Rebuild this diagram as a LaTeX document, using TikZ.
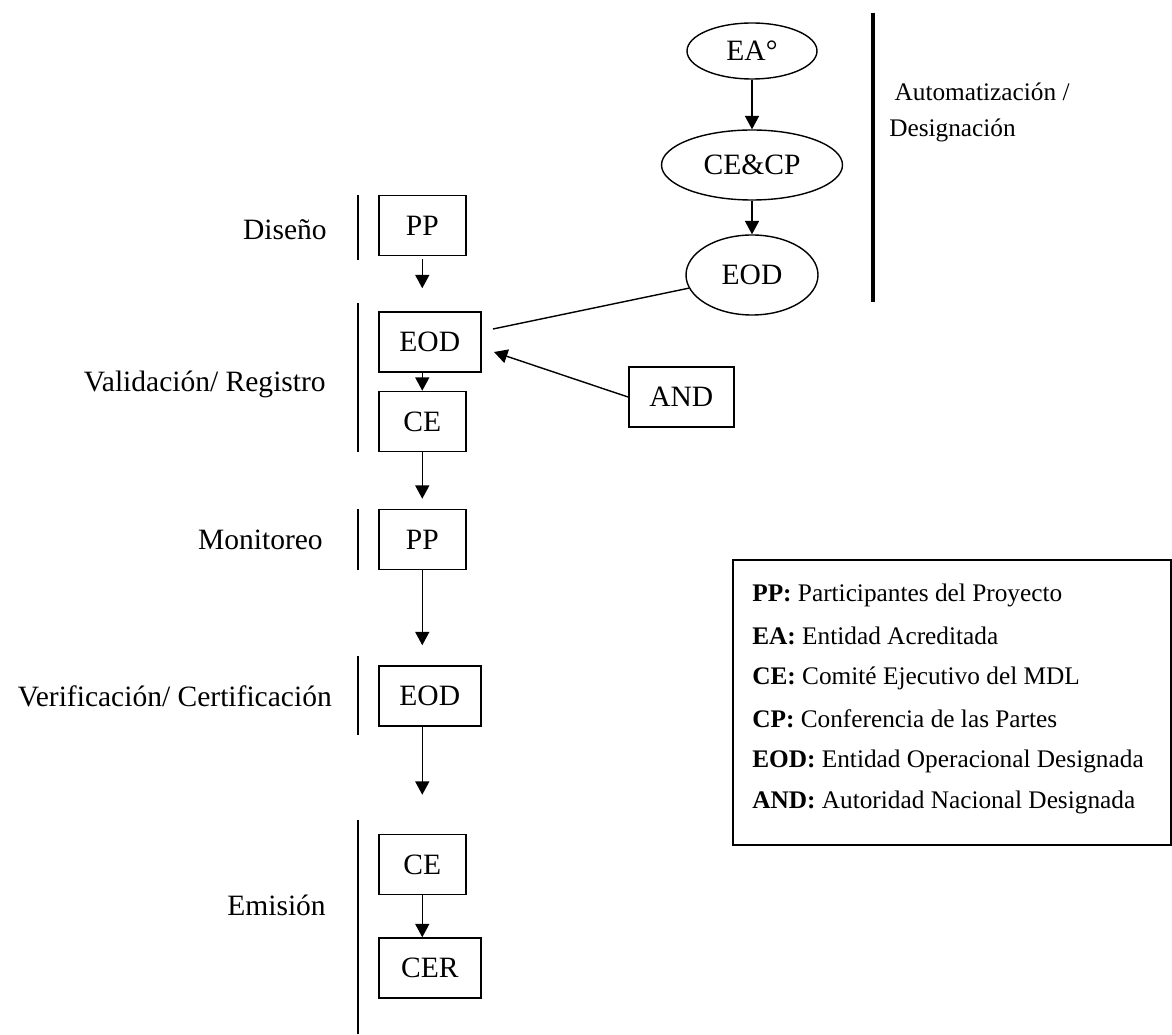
\documentclass[tikz,border=0pt]{standalone}
\usepackage{fontspec}
\setmainfont{Liberation Serif}
\usetikzlibrary{arrows.meta,shapes.geometric}

\begin{document}
\begin{tikzpicture}[
  mdlbox/.style = {draw, line width=1.1pt, inner sep=0pt, anchor=west,
    minimum width=2.175cm, minimum height=1.5cm,
    font=\fontsize{21}{25}\selectfont},
  mdlwide/.style = {mdlbox, minimum width=2.55cm},
  mdlell/.style = {draw, line width=1pt, ellipse, inner sep=0pt,
    font=\fontsize{21}{25}\selectfont},
  mdlarr/.style = {-{Triangle[length=9.5pt,width=10pt]}, line width=1pt},
  mdlline/.style = {line width=1pt},
  mdlbar/.style = {line width=1pt},
  mdllbl/.style = {anchor=east, inner sep=0pt, font=\fontsize{21}{25}\selectfont},
  mdlsmall/.style = {anchor=west, inner sep=0pt, font=\fontsize{18}{22}\selectfont}
]
  \useasboundingbox (0,0) rectangle (29.3,25.85);

  % etapas
  \node[mdllbl] (lbl1) at (8.175,20.1) {Diseño};
  \node[mdllbl] (lbl2) at (8.15,16.25) {Validación/ Registro};
  \node[mdllbl] (lbl3) at (8.075,12.35) {Monitoreo};
  \node[mdllbl] (lbl4) at (8.3,8.45) {Verificación/ Certificación};
  \node[mdllbl] (lbl5) at (8.15,3.225) {Emisión};

  \draw[mdlbar] (8.95,20.975) -- (8.95,19.35);
  \draw[mdlbar] (8.95,18.275) -- (8.95,14.55);
  \draw[mdlbar] (8.95,13.125) -- (8.95,11.6);
  \draw[mdlbar] (8.95,9.45) -- (8.95,7.475);
  \draw[mdlbar] (8.95,5.35) -- (8.95,0);

  % cajas
  \node[mdlbox] (pp1) at (9.45,20.2125) {PP};
  \node[mdlwide] (eod1) at (9.45,17.3) {EOD};
  \node[mdlbox] (ce1) at (9.45,15.3125) {CE};
  \node[mdlbox] (pp2) at (9.45,12.3625) {PP};
  \node[mdlwide] (eod2) at (9.45,8.45) {EOD};
  \node[mdlbox] (ce2) at (9.45,4.2375) {CE};
  \node[mdlwide] (cer) at (9.45,1.65) {CER};
  \node[mdlbox, minimum width=2.625cm] (and) at (15.7,15.925) {AND};

  \draw[mdlarr, shorten <=2pt, shorten >=0.575cm] (pp1.south) -- (eod1.north -| pp1.south);
  \draw[mdlarr] (eod1.south -| ce1.north) -- (ce1.north);
  \draw[mdlarr, shorten >=0.25cm] (ce1.south) -- (pp2.north);
  \draw[mdlarr, shorten >=0.5cm] (pp2.south) -- (eod2.north -| pp2.south);
  \draw[mdlarr, shorten >=0.975cm] (eod2.south -| ce2.north) -- (ce2.north);
  \draw[mdlarr] (ce2.south) -- (cer.north -| ce2.south);

  % designacion
  \node[mdlell, minimum width=3.25cm, minimum height=1.4cm] (ea) at (18.8,24.575) {EA°};
  \node[mdlell, minimum width=4.525cm, minimum height=1.75cm] (cecp) at (18.8,21.725) {CE\&CP};
  \node[mdlell, minimum width=3.3cm, minimum height=2cm] (eoda) at (18.8,18.975) {EOD};
  \draw[mdlarr] (ea) -- (cecp);
  \draw[mdlarr] (cecp) -- (eoda);

  \draw[line width=2.8pt] (21.825,25.525) -- (21.825,18.3);
  \node[mdlsmall] (auto1) at (22.2,23.55) {\ Automatización /};
  \node[mdlsmall] (auto2) at (22.225,22.6) {Designación};

  \coordinate (eodin) at (12.325,17.625);
  \coordinate (andin) at (12.35,17.05);
  \draw[mdlline] (eoda) -- (eodin);
  \draw[mdlarr] (and.west) -- (andin);

  % leyenda
  \draw[line width=1.1pt] (18.325,11.85) rectangle (29.275,4.725);
  \node[mdlsmall] (leg1) at (18.8,10.975) {\textbf{PP:} Participantes del Proyecto};
  \node[mdlsmall] (leg2) at (18.8,9.95) {\textbf{EA:} Entidad Acreditada};
  \node[mdlsmall] (leg3) at (18.8,8.9) {\textbf{CE:} Comité Ejecutivo del MDL};
  \node[mdlsmall] (leg4) at (18.8,7.875) {\textbf{CP:} Conferencia de las Partes};
  \node[mdlsmall] (leg5) at (18.8,6.825) {\textbf{EOD:} Entidad Operacional Designada};
  \node[mdlsmall] (leg6) at (18.8,5.8) {\textbf{AND:} Autoridad Nacional Designada};
\end{tikzpicture}
\end{document}
